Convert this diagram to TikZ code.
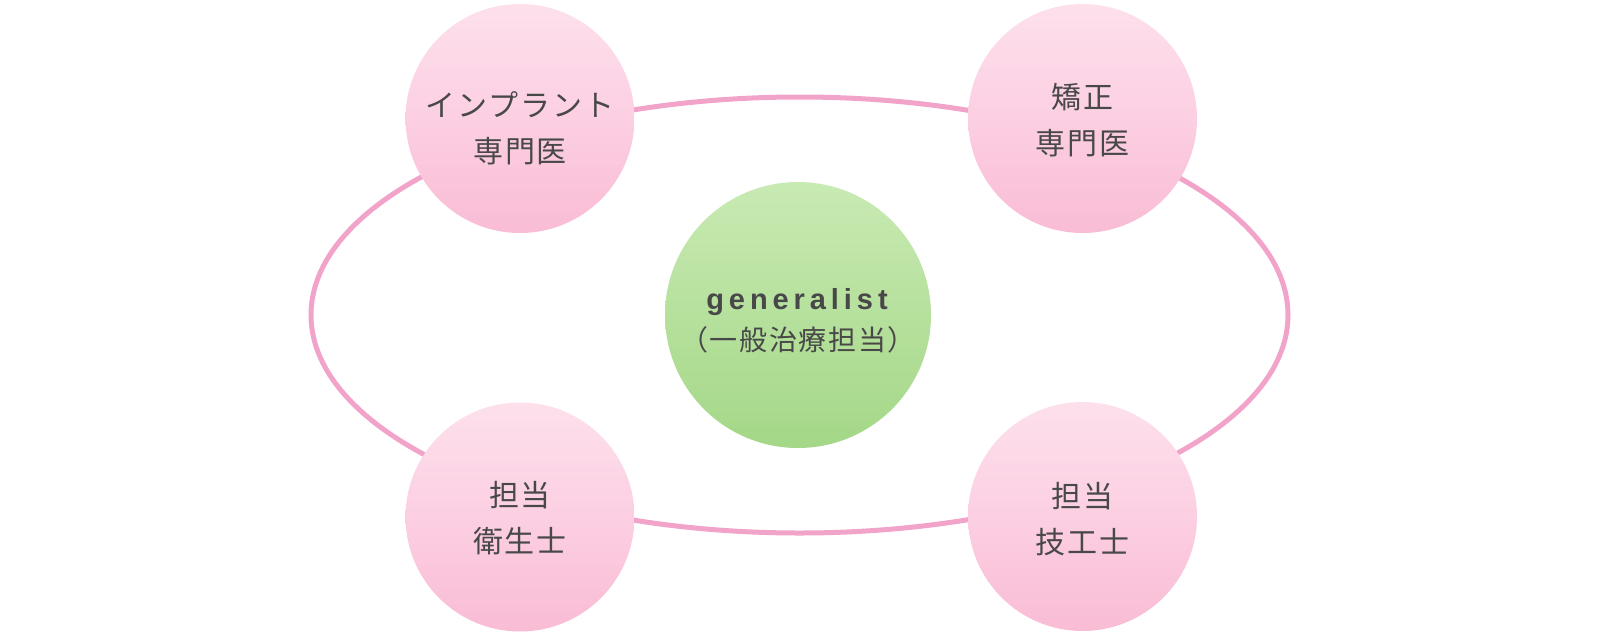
\documentclass[tikz,border=0pt]{standalone}
\usepackage{fontspec}
\usetikzlibrary{shapes.geometric}
\newfontfamily\jpfont[LetterSpace=6]{Noto Sans CJK JP}
\newfontfamily\genfont[LetterSpace=17]{Liberation Sans Bold}
\definecolor{ringpink}{HTML}{F2A3CA}
\definecolor{pinktop}{HTML}{FDE0EC}
\definecolor{pinkmid}{HTML}{FCCFE2}
\definecolor{pinkbot}{HTML}{F9BCD5}
\definecolor{greentop}{HTML}{C8EAB3}
\definecolor{greenbot}{HTML}{A4D787}
\definecolor{txt}{HTML}{484848}
\tikzset{
  pinkball/.style={circle, minimum size=229pt, inner sep=0pt, top color=pinktop, bottom color=pinkbot, middle color=pinkmid},
  greenball/.style={circle, minimum size=266pt, inner sep=0pt, top color=greentop, bottom color=greenbot},
  ringstyle/.style={ellipse, draw=ringpink, line width=5pt, minimum width=977pt, minimum height=436pt, inner sep=0pt},
  lbl/.style={align=center, text=txt, inner sep=0pt, font=\jpfont\fontsize{30}{46}\selectfont},
  glbl/.style={align=center, text=txt, inner sep=0pt}
}
\begin{document}
\begin{tikzpicture}[x=1pt, y=-1pt]
\useasboundingbox (0,0) rectangle (1600,640);
\node[ringstyle] (ring) at (799.5,315) {};
\node[pinkball] (tl) at (520,118.5) {};
\node[pinkball] (tr) at (1082.5,118.5) {};
\node[pinkball] (bl) at (520,517) {};
\node[pinkball] (br) at (1082.5,516.5) {};
\node[greenball] (gen) at (798,315) {};
\node[lbl] (tltext) at (520,128.5) {インプラント\\専門医};
\node[lbl] (trtext) at (1082.5,120) {矯正\\専門医};
\node[lbl] (bltext) at (520,518.5) {担当\\衛生士};
\node[lbl] (brtext) at (1082.5,519.5) {担当\\技工士};
\node[glbl, font=\genfont\fontsize{29}{30}\selectfont] (gentext) at (797,302) {generalist};
\node[glbl, font=\jpfont\fontsize{28}{30}\selectfont] (gensub) at (798,340) {（一般治療担当）};
\end{tikzpicture}
\end{document}
